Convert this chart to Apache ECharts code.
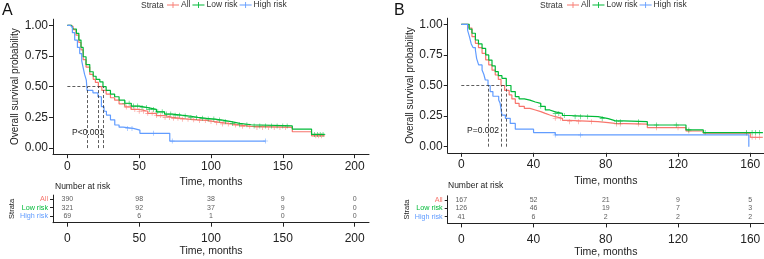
<!DOCTYPE html>
<html><head><meta charset="utf-8">
<script src="https://cdn.jsdelivr.net/npm/echarts@6/dist/echarts.min.js"></script>
<style>html,body{margin:0;padding:0;background:#fff}#c{width:764px;height:259px}</style>
</head><body><div id="c"></div>
<script>
// ---------- DATA ----------
const strata = ['All', 'Low risk', 'High risk'];
// Panel A (Kaplan-Meier: time in months, survival probability)
const aAllT  = [0,2.5,4,6,8,9.5,11,13,15.6,18,19.5,21.6,24,27,30,32.9,36,40,44.5,50,56,62,67.7,73,79.3,85,90.9,97,102.5,108,114,120,128,156.6,170,179.2];
const aAllS  = [1,0.99,0.965,0.92,0.86,0.8,0.72,0.66,0.6,0.56,0.535,0.5,0.47,0.44,0.41,0.39,0.36,0.335,0.315,0.3,0.283,0.265,0.25,0.242,0.235,0.23,0.225,0.216,0.207,0.197,0.187,0.177,0.168,0.133,0.1,0.1];
const aLowT  = [0,2.8,4,6.3,8,9.5,11,13,15.6,18,20,22.6,24.8,27,30,32.9,36,40,44.5,50,56,62,67.7,73,79.3,85,90.9,97,102.5,108,114.1,120,128,156.6,170,179.2];
const aLowS  = [1,0.99,0.97,0.935,0.88,0.82,0.744,0.68,0.622,0.585,0.56,0.54,0.5,0.47,0.44,0.418,0.39,0.365,0.342,0.33,0.315,0.295,0.277,0.268,0.261,0.25,0.242,0.236,0.228,0.215,0.201,0.19,0.18,0.155,0.111,0.111];
const aHighT = [0,2,3.5,5.1,7,8.6,10,10.9,12,13.2,13.7,17.8,21.3,23.7,25.5,27.2,30,33,36,38.8,45.8,50.5,71.3,138];
const aHighS = [1,0.985,0.94,0.88,0.82,0.77,0.71,0.66,0.6,0.554,0.47,0.45,0.418,0.337,0.3,0.269,0.23,0.188,0.17,0.16,0.146,0.12,0.057,0.057];
const aCensAll  = [41,44,47,50,53,56,59,62,65,68,71,74,77,80,84,88,92,96,100,104,108,112,117,122,127,132,136,140,144,148,152,173,175,177];
const aCensLow  = [40,43,46,49,52,55,57,60,63,66,69,72,75,78,82,86,90,94,98,102,106,110,115,120,125,130,134,138,142,146,150,153,172,174,176,178];
const aCensHigh = [42,45,60,73,138];
const aMedians  = [21.6, 24.8, 13.7];
const aTicks    = [0,50,100,150,200];
const aRiskAll  = [390,98,38,9,0];
const aRiskLow  = [321,92,37,9,0];
const aRiskHigh = [69,6,1,0,0];
const aP = 'P<0.001';
// Panel B
const bAllT  = [0,4,5.9,7.8,9.5,11.5,13.5,15.2,17,18.8,20.5,22,24,26.5,28,29.9,32,34.9,38,41,44,46.5,49,52,56,59.5,75.7,81.4,85,103,124.4,134,160,167];
const bAllS  = [1,0.97,0.9,0.845,0.81,0.763,0.71,0.668,0.625,0.586,0.55,0.5,0.46,0.423,0.39,0.354,0.33,0.313,0.3,0.286,0.272,0.259,0.245,0.232,0.215,0.204,0.196,0.19,0.185,0.155,0.128,0.11,0.077,0.077];
const bLowT  = [0,4.4,5.9,7.8,9.5,11.5,13.5,15.2,17,18.8,20.5,22.5,24.9,27.5,29.9,32,34.9,38,41,44,46.5,49,52,56,59.5,75.7,81.4,85,103,124.4,134,167];
const bLowS  = [1,0.96,0.927,0.872,0.84,0.803,0.75,0.708,0.66,0.613,0.58,0.559,0.5,0.45,0.409,0.39,0.381,0.365,0.354,0.33,0.3,0.285,0.272,0.255,0.245,0.229,0.213,0.204,0.177,0.137,0.115,0.115];
const bHighT = [0,3.5,4.5,5.5,6.5,7.8,8.5,9.6,11.5,12.5,13.3,14.8,16,17.5,20.7,21.5,22.5,24.4,27.1,29.9,40,52,159.2];
const bHighS = [1,0.95,0.9,0.84,0.81,0.79,0.72,0.668,0.627,0.59,0.545,0.5,0.45,0.412,0.381,0.354,0.258,0.232,0.19,0.143,0.115,0.096,0];
const bCensAll  = [52,55,60,65,72,86,88,98,108,120,126,158,161,163,165];
const bCensLow  = [44,52,54,57,63,66,70,78,86,88,98,108,119,126,135,158,161,163,165];
const bCensHigh = [52,66];
const bMedians  = [22.0, 24.9, 14.8];
const bTicks    = [0,40,80,120,160];
const bRiskAll  = [167,52,21,9,5];
const bRiskLow  = [126,46,19,7,3];
const bRiskHigh = [41,6,2,2,2];
const bP = 'P=0.002';
const yTicks = [0,0.25,0.5,0.75,1];

// ---------- STYLE ----------
const FONT = 'Liberation Sans, Arial, sans-serif';
const COLORS = {'All':'#F8766D','Low risk':'#00BA38','High risk':'#619CFF'};
const AX = '#222';
const PLUS = 'path://M4.4,0 L5.6,0 L5.6,4.4 L10,4.4 L10,5.6 L5.6,5.6 L5.6,10 L4.4,10 L4.4,5.6 L0,5.6 L0,4.4 L4.4,4.4 Z';
const LEGICON = 'path://M0,4.5 L14,4.5 L14,5.5 L0,5.5 Z M6.5,1.5 L7.5,1.5 L7.5,8.5 L6.5,8.5 Z';

function pairs(t, s){ return t.map((v,i)=>[v, s[i]]); }
function survAt(t, s, x){ let k=0; for(let i=0;i<t.length;i++){ if(t[i]<=x) k=i; } return s[k]; }

const grids = [
  {left:53, top:19.2, width:316, height:135},      // A plot
  {left:53, top:195.1, width:316, height:27.6},    // A table
  {left:447.7, top:18.2, width:316.3, height:134.6}, // B plot
  {left:447.7, top:195.8, width:316.3, height:27.6}  // B table
];

function xAxisDef(grid, min, max, ticks, name, nameGap, margin){
  return {type:'value', gridIndex:grid, min:min, max:max,
    axisLine:{show:true, onZero:false, lineStyle:{color:AX, width:1}},
    axisTick:{show:true, length:4, customValues:ticks, lineStyle:{color:AX}},
    axisLabel:{customValues:ticks, fontSize:12, color:'#222', margin:margin, fontFamily:FONT},
    splitLine:{show:false},
    name:name, nameLocation:'middle', nameGap:nameGap,
    nameTextStyle:{fontSize:10.5, color:'#222', fontFamily:FONT}};
}
function yPlotDef(grid){
  return {type:'value', gridIndex:grid, min:-0.05, max:1.05,
    axisLine:{show:true, onZero:false, lineStyle:{color:AX, width:1}},
    axisTick:{show:true, length:4, customValues:yTicks, lineStyle:{color:AX}},
    axisLabel:{customValues:yTicks, fontSize:12, color:'#222', margin:5, fontFamily:FONT,
      formatter:v=>Number(v).toFixed(2)},
    splitLine:{show:false},
    name:'Overall survival probability', nameLocation:'middle', nameGap:32,
    nameTextStyle:{fontSize:10, color:'#222', fontFamily:FONT}};
}
const rowVal = {'All':3, 'Low risk':2, 'High risk':1};
const rowName = {3:'All', 2:'Low risk', 1:'High risk'};
function yTableDef(grid){
  return {type:'value', gridIndex:grid, min:0.2, max:3.5,
    axisLine:{show:true, onZero:false, lineStyle:{color:AX, width:1}},
    axisTick:{show:true, length:3, customValues:[1,2,3], lineStyle:{color:AX}},
    axisLabel:{customValues:[1,2,3], fontSize:7.2, margin:5, fontFamily:FONT,
      formatter:v=>{const n=rowName[Math.round(v)]; return '{r'+Math.round(v)+'|'+n+'}';},
      rich:{r3:{color:COLORS['All'],fontSize:7.2,fontFamily:FONT}, r2:{color:COLORS['Low risk'],fontSize:7.2,fontFamily:FONT}, r1:{color:COLORS['High risk'],fontSize:7.2,fontFamily:FONT}}},
    splitLine:{show:false},
    name:'Strata', nameLocation:'middle', nameGap:35,
    nameTextStyle:{fontSize:7.5, color:'#222', fontFamily:FONT}};
}

const series = [];
function addPanel(xi, yi, tx, ty, curves, cens, medians, ticks, risks){
  strata.forEach((nm, k)=>{
    series.push({type:'line', name:nm, xAxisIndex:xi, yAxisIndex:yi, step:'end',
      data:pairs(curves[k][0], curves[k][1]), showSymbol:false, symbol:'none',
      lineStyle:{color:COLORS[nm], width:1.2}, itemStyle:{color:COLORS[nm]},
      silent:true, animation:false, z:2+k});
  });
  strata.forEach((nm, k)=>{
    series.push({type:'scatter', name:nm+' censored', xAxisIndex:xi, yAxisIndex:yi,
      data:cens[k].map(t=>[t, survAt(curves[k][0], curves[k][1], t)]),
      symbol:PLUS, symbolSize:5, itemStyle:{color:COLORS[nm]}, silent:true, animation:false, z:2+k});
  });
  const maxMed = Math.max.apply(null, medians);
  const ml = [[{coord:[0,0.5]},{coord:[maxMed,0.5]}]];
  medians.forEach(m=>ml.push([{coord:[m,0]},{coord:[m,0.5]}]));
  series.push({type:'line', name:'median', xAxisIndex:xi, yAxisIndex:yi, data:[], silent:true,
    markLine:{symbol:'none', silent:true, animation:false, label:{show:false},
      lineStyle:{type:[3,2], color:'#333', width:0.8}, data:ml}});
  // risk table
  const rd = [];
  strata.forEach((nm,k)=>{ ticks.forEach((t,i)=>rd.push([t, rowVal[nm], risks[k][i]])); });
  series.push({type:'scatter', name:'risk', xAxisIndex:tx, yAxisIndex:ty, data:rd,
    symbolSize:0, silent:true, animation:false,
    label:{show:true, position:'inside', formatter:p=>String(p.value[2]), fontSize:7, color:'#333', fontFamily:FONT}});
}
addPanel(0,0,1,1,
  [[aAllT,aAllS],[aLowT,aLowS],[aHighT,aHighS]],
  [aCensAll,aCensLow,aCensHigh], aMedians, aTicks, [aRiskAll,aRiskLow,aRiskHigh]);
addPanel(2,2,3,3,
  [[bAllT,bAllS],[bLowT,bLowS],[bHighT,bHighS]],
  [bCensAll,bCensLow,bCensHigh], bMedians, bTicks, [bRiskAll,bRiskLow,bRiskHigh]);

const legendBase = {top:0.5, orient:'horizontal', data:strata, itemGap:2, itemWidth:12, itemHeight:7,
  icon:LEGICON, selectedMode:false, padding:0, textStyle:{fontSize:8.5, color:'#333', fontFamily:FONT, padding:[0,0,0,-3]}};

const option = {
  animation:false,
  grid:grids,
  legend:[Object.assign({left:167}, legendBase), Object.assign({left:567}, legendBase)],
  xAxis:[
    xAxisDef(0,-10,210,aTicks,'Time, months',22,6),
    xAxisDef(1,-10,210,aTicks,'Time, months',23,10),
    xAxisDef(2,-7.53,167.6,bTicks,'Time, months',22,6),
    xAxisDef(3,-7.53,167.6,bTicks,'Time, months',23,10)
  ],
  yAxis:[yPlotDef(0), yTableDef(1), yPlotDef(2), yTableDef(3)],
  series:series,
  graphic:[
    {type:'text', left:2, top:3, style:{text:'A', fontSize:16, fill:'#111', fontFamily:FONT}},
    {type:'text', left:394, top:3, style:{text:'B', fontSize:16, fill:'#111', fontFamily:FONT}},
    {type:'text', left:141, top:1, style:{text:'Strata', fontSize:8.5, fill:'#333', fontFamily:FONT}},
    {type:'text', left:540, top:1, style:{text:'Strata', fontSize:8.5, fill:'#333', fontFamily:FONT}},
    {type:'text', left:55, top:182, style:{text:'Number at risk', fontSize:8.5, fill:'#222', fontFamily:FONT}},
    {type:'text', left:448, top:181, style:{text:'Number at risk', fontSize:8.5, fill:'#222', fontFamily:FONT}},
    {type:'text', left:72, top:128, style:{text:aP, fontSize:8.5, fill:'#222', fontFamily:FONT}},
    {type:'text', left:467, top:126, style:{text:bP, fontSize:8.5, fill:'#222', fontFamily:FONT}}
  ]
};
const chart = echarts.init(document.getElementById('c'), null, {renderer:'canvas'});
chart.setOption(option);
</script>
</body></html>
